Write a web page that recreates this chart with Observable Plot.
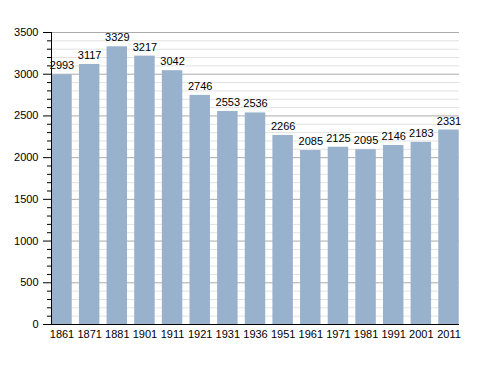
<!DOCTYPE html>
<html><head><meta charset="utf-8">
<script src="https://cdn.jsdelivr.net/npm/d3@7"></script>
<script src="https://cdn.jsdelivr.net/npm/@observablehq/plot@0.6"></script>
<style>body{margin:0;background:#fff;} svg{font-family:"Liberation Sans",Arial,sans-serif;}</style>
</head><body><div id="chart"></div>
<script>
const years = ["1861","1871","1881","1901","1911","1921","1931","1936","1951","1961","1971","1981","1991","2001","2011"];
const population = [2993,3117,3329,3217,3042,2746,2553,2536,2266,2085,2125,2095,2146,2183,2331];
const majorTicks = [0,500,1000,1500,2000,2500,3000,3500];
const minorTicks = d3.range(0, 3501, 100).filter(v => v % 500 !== 0);
const data = years.map((y, i) => ({year: y, value: population[i]}));

const chart = Plot.plot({
  width: 488, height: 373,
  marginLeft: 51, marginRight: 29, marginTop: 32, marginBottom: 49,
  style: {fontSize: "11px", fontFamily: "Liberation Sans, Arial, sans-serif", color: "#000", background: "#fff"},
  x: {domain: years, paddingInner: 0.26, paddingOuter: 0.01, round: false, label: null},
  y: {domain: [0, 3500], label: null},
  marks: [
    Plot.gridY(minorTicks, {stroke: "#e2e2e2", strokeOpacity: 1}),
    Plot.gridY(majorTicks, {stroke: "#ababab", strokeOpacity: 1}),
    Plot.barY(data, {x: "year", y: "value", fill: "#98b1cc"}),
    Plot.text(data, {x: "year", y: "value", text: d => String(d.value), dy: -9, fontSize: 11, fill: "#000"}),
    Plot.axisY(minorTicks, {tickSize: 4, text: null, stroke: "#000"}),
    Plot.axisY(majorTicks, {tickSize: 8, tickPadding: 5, tickFormat: d => String(d), stroke: "#000", fill: "#000", fontSize: 11}),
    Plot.axisX({tickSize: 0, tickPadding: 6, fill: "#000", fontSize: 11}),
    Plot.frame({anchor: "left", stroke: "#000"}),
    Plot.ruleY([0], {stroke: "#000"})
  ]
});
document.getElementById("chart").append(chart);
</script></body></html>
